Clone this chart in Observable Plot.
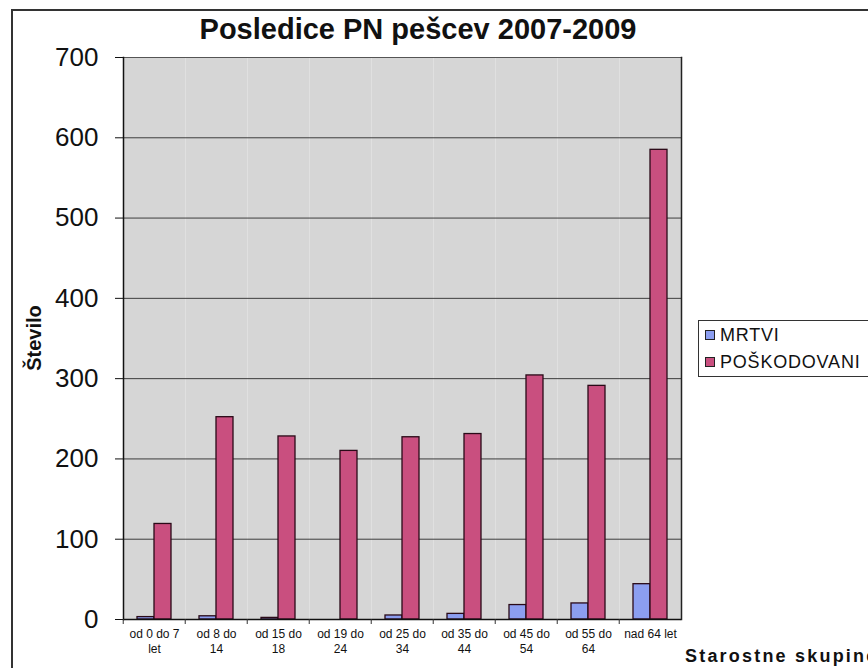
<!DOCTYPE html>
<html>
<head>
<meta charset="utf-8">
<script src="https://cdn.jsdelivr.net/npm/d3@7"></script>
<script src="https://cdn.jsdelivr.net/npm/@observablehq/plot@0.6"></script>
<style>
  html, body { margin: 0; padding: 0; background: #fff; overflow: hidden; }
  #wrap { position: relative; width: 868px; height: 668px; overflow: hidden; font-family: "Liberation Sans", Arial, sans-serif; color: #111; }
  #wrap svg { position: absolute; left: 0; top: 0; }
  #border { position: absolute; left: 11px; top: 9px; width: 900px; height: 700px; border: 2px solid #333; box-sizing: border-box; }
  #title { position: absolute; left: 0; width: 836px; top: 13px; text-align: center; font-weight: bold; font-size: 29px; }
  #ylabel { position: absolute; left: 34px; top: 338px; transform: translate(-50%, -50%) rotate(-90deg); font-weight: bold; font-size: 20px; white-space: nowrap; }
  #xlabel { position: absolute; left: 685px; top: 646px; font-weight: bold; font-size: 18px; letter-spacing: 2.2px; white-space: nowrap; }
  #legend { position: absolute; left: 698px; top: 320px; width: 200px; height: 57px; border: 1.5px solid #333; box-sizing: border-box; background: #fff; }
  .item { position: absolute; left: 6px; font-size: 18px; letter-spacing: 0.8px; white-space: nowrap; }
  .sw { display: inline-block; width: 8px; height: 8px; border: 1px solid #222; margin-right: 5px; vertical-align: 1px; }
</style>
</head>
<body>
<div id="wrap">
  <div id="border"></div>
</div>
<script>
const categories = ["od 0 do 7 let", "od 8 do 14", "od 15 do 18", "od 19 do 24", "od 25 do 34", "od 35 do 44", "od 45 do 54", "od 55 do 64", "nad 64 let"];
const tickLabels = ["od 0 do 7\nlet", "od 8 do\n14", "od 15 do\n18", "od 19 do\n24", "od 25 do\n34", "od 35 do\n44", "od 45 do\n54", "od 55 do\n64", "nad 64 let"];
const series = ["MRTVI", "POŠKODOVANI"];
const mrtvi = [3, 4, 2, 0, 5, 7, 18, 20, 44];
const poskodovani = [119, 252, 228, 210, 227, 231, 304, 291, 585];
const colors = ["#8c9ef0", "#c94f7f"];
const yTicks = [0, 100, 200, 300, 400, 500, 600, 700];
const gridTicks = [100, 200, 300, 400, 500, 600];
const title = "Posledice PN pešcev 2007-2009";
const yTitle = "Število";
const xTitle = "Starostne skupine";

const data = [];
categories.forEach((c, i) => {
  data.push({cat: c, series: series[0], value: mrtvi[i]});
  data.push({cat: c, series: series[1], value: poskodovani[i]});
});

const W = 868, ML = 120, MR = 185;
const halfBand = (W - ML - MR) / categories.length / 2;

const chart = Plot.plot({
  width: W,
  height: 668,
  marginLeft: ML,
  marginRight: MR,
  marginTop: 57,
  marginBottom: 49,
  style: {fontFamily: "'Liberation Sans', Arial, sans-serif", background: "transparent", color: "#111"},
  fx: {domain: categories, padding: 0, label: null},
  x: {domain: series, paddingInner: 0, paddingOuter: 0.74, axis: null},
  y: {domain: [0, 700], label: null},
  color: {domain: series, range: colors},
  marks: [
    Plot.frame({fill: "#d6d6d6", stroke: "none"}),
    Plot.gridY(gridTicks, {stroke: "#222", strokeOpacity: 0.85, strokeWidth: 1}),
    Plot.frame({anchor: "top", stroke: "#555", strokeWidth: 1.2}),
    Plot.frame({anchor: "right", facetAnchor: "right", stroke: "#222", strokeWidth: 1.5}),
    Plot.frame({anchor: "left", facetAnchor: "left", stroke: "#111", strokeWidth: 1.5}),
    Plot.barY(data, {fx: "cat", x: "series", y: "value", fill: "series", stroke: "#2a0a18", strokeWidth: 1.3}),
    Plot.ruleY([0], {stroke: "#111", strokeWidth: 1.5}),
    Plot.axisY(yTicks, {fontSize: 26, tickSize: 8, tickPadding: 17, label: null, stroke: "#111"}),
    Plot.axisFx({anchor: "bottom", tickSize: 5, text: null, dx: -halfBand, stroke: "#333", label: null}),
    Plot.axisFx({anchor: "bottom", fontSize: 12, tickSize: 0, tickPadding: 8, lineHeight: 1.25, tickFormat: (d) => tickLabels[categories.indexOf(d)], label: null})
  ]
});
const wrap = document.getElementById("wrap");
wrap.appendChild(chart);

function addDiv(id, text) {
  const d = document.createElement("div");
  d.id = id; d.textContent = text; wrap.appendChild(d); return d;
}
addDiv("title", title);
addDiv("ylabel", yTitle);
addDiv("xlabel", xTitle);
const leg = document.createElement("div");
leg.id = "legend";
series.forEach((s, i) => {
  const it = document.createElement("div");
  it.className = "item";
  it.style.top = (i === 0 ? 4 : 31) + "px";
  const sw = document.createElement("span");
  sw.className = "sw"; sw.style.background = colors[i];
  it.appendChild(sw);
  it.appendChild(document.createTextNode(s));
  leg.appendChild(it);
});
wrap.appendChild(leg);
</script>
</body>
</html>
